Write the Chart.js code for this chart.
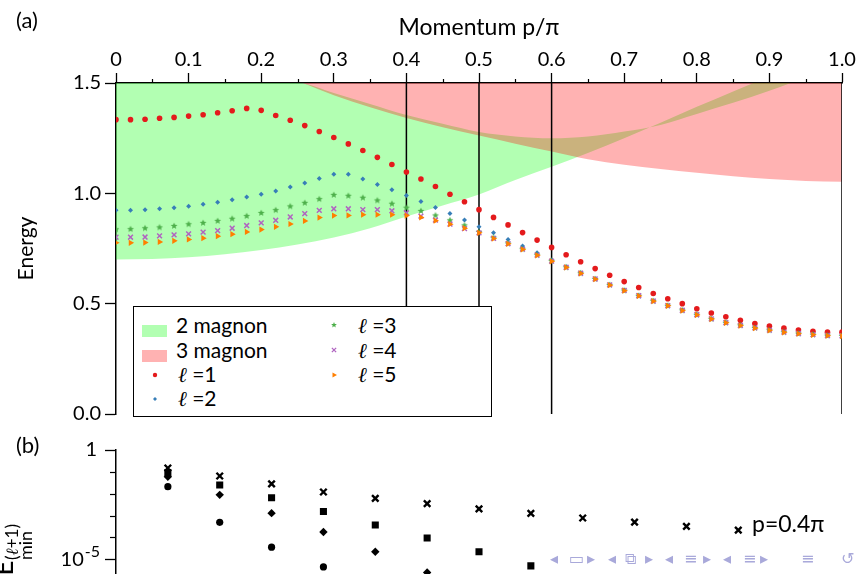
<!DOCTYPE html>
<html>
<head>
<meta charset="utf-8">
<script src="https://cdn.jsdelivr.net/npm/chart.js@4.4.0/dist/chart.umd.min.js"></script>
<style>
html, body { margin: 0; padding: 0; background: #fff; }
body { width: 861px; height: 574px; overflow: hidden; position: relative; font-family: Lato, "DejaVu Sans", sans-serif; color: #000; }
canvas { position: absolute; left: 0; }
#topChart { top: 0; }
#bottomChart { top: 430px; }
.lbl { position: absolute; white-space: nowrap; line-height: 1; }
#legend { position: absolute; left: 133px; top: 306px; width: 359px; height: 111px; background: #fff; border: 1px solid #000; box-sizing: border-box; }
#legend .txt { position: absolute; font-size: 21px; line-height: 1; white-space: nowrap; }
#legend .sw { position: absolute; width: 25px; height: 12px; }
#legend canvas { position: absolute; }
.ell { font-family: "DejaVu Serif", serif; font-style: italic; }
.rot { position: absolute; transform: rotate(-90deg); text-align: center; white-space: nowrap; }
.nav { position: absolute; color: #a9a9da; font-family: "DejaVu Sans", sans-serif; font-size: 16px; line-height: 1; }
</style>
</head>
<body>
<canvas id="topChart" width="861" height="430"></canvas>
<canvas id="bottomChart" width="861" height="270"></canvas>

<div class="lbl" style="left:16px; top:9px; font-size:22px;">(a)</div>
<div class="lbl" style="left:16px; top:434px; font-size:22px;">(b)</div>
<div class="lbl" style="left:752px; top:512px; font-size:23px;">p=0.4π</div>

<div class="rot" style="left:-14px; top:555px; width:34px; height:26px; font-size:26px; line-height:26px;">E</div>
<div class="rot" style="left:-8px; top:533px; width:40px; height:18px; font-size:17px; line-height:18px;">(<span class="ell">ℓ</span>+1)</div>
<div class="rot" style="left:8px; top:537px; width:34px; height:17px; font-size:18px; line-height:17px;">min</div>

<div id="legend">
  <div class="sw" style="left:8px; top:18px; background:rgba(0,255,0,0.3);"></div>
  <div class="txt" style="left:42px; top:7px;">2 magnon</div>
  <div class="sw" style="left:8px; top:43px; background:rgba(255,0,0,0.3);"></div>
  <div class="txt" style="left:42px; top:32px;">3 magnon</div>
  <canvas id="mk1" width="12" height="12" style="left:15px; top:62px;"></canvas>
  <div class="txt" style="left:44px; top:56px;"><span class="ell">ℓ</span> =1</div>
  <canvas id="mk2" width="12" height="12" style="left:15px; top:86px;"></canvas>
  <div class="txt" style="left:44px; top:80px;"><span class="ell">ℓ</span> =2</div>
  <canvas id="mk3" width="12" height="12" style="left:194px; top:12px;"></canvas>
  <div class="txt" style="left:224px; top:7px;"><span class="ell">ℓ</span> =3</div>
  <canvas id="mk4" width="12" height="12" style="left:194px; top:37px;"></canvas>
  <div class="txt" style="left:224px; top:32px;"><span class="ell">ℓ</span> =4</div>
  <canvas id="mk5" width="12" height="12" style="left:194px; top:62px;"></canvas>
  <div class="txt" style="left:224px; top:56px;"><span class="ell">ℓ</span> =5</div>
</div>

<div id="navbar"></div>

<script>
// ---- panel (a): excitation energies vs momentum ----
const momenta = [0, 0.02, 0.04, 0.06, 0.08, 0.10, 0.12, 0.14, 0.16, 0.18,
    0.20, 0.22, 0.24, 0.26, 0.28, 0.30, 0.32, 0.34, 0.36, 0.38,
    0.40, 0.42, 0.44, 0.46, 0.48, 0.50, 0.52, 0.54, 0.56, 0.58,
    0.60, 0.62, 0.64, 0.66, 0.68, 0.70, 0.72, 0.74, 0.76, 0.78,
    0.80, 0.82, 0.84, 0.86, 0.88, 0.90, 0.92, 0.94, 0.96, 0.98, 1.00];

const ell1 = [1.334, 1.334, 1.336, 1.340, 1.344, 1.350, 1.356, 1.365, 1.374, 1.385,
    1.376, 1.353, 1.331, 1.307, 1.280, 1.253, 1.224, 1.194, 1.163, 1.131,
    1.097, 1.065, 1.031, 0.996, 0.962, 0.926, 0.891, 0.857, 0.822, 0.788,
    0.755, 0.722, 0.690, 0.659, 0.629, 0.600, 0.573, 0.546, 0.522, 0.500,
    0.477, 0.458, 0.441, 0.425, 0.410, 0.398, 0.389, 0.381, 0.375, 0.371, 0.371];

const ell2 = [0.923, 0.923, 0.926, 0.930, 0.935, 0.942, 0.950, 0.960, 0.971, 0.983,
    0.996, 1.011, 1.029, 1.047, 1.067, 1.086, 1.086, 1.065, 1.040, 1.016,
    0.990, 0.963, 0.936, 0.909, 0.879, 0.849, 0.821, 0.791, 0.761, 0.731,
    0.698, 0.667, 0.640, 0.613, 0.586, 0.561, 0.537, 0.513, 0.492, 0.471,
    0.451, 0.432, 0.415, 0.403, 0.391, 0.381, 0.372, 0.366, 0.361, 0.357, 0.355];

const ell3 = [0.837, 0.838, 0.842, 0.846, 0.852, 0.860, 0.866, 0.875, 0.885, 0.897,
    0.911, 0.924, 0.941, 0.957, 0.974, 0.993, 0.989, 0.980, 0.968, 0.953,
    0.935, 0.920, 0.900, 0.878, 0.855, 0.825, 0.799, 0.773, 0.747, 0.720,
    0.694, 0.665, 0.638, 0.612, 0.585, 0.560, 0.536, 0.512, 0.491, 0.470,
    0.450, 0.431, 0.414, 0.402, 0.390, 0.380, 0.371, 0.365, 0.360, 0.356, 0.354];

const ell4 = [0.801, 0.801, 0.802, 0.807, 0.812, 0.816, 0.824, 0.831, 0.842, 0.854,
    0.866, 0.878, 0.893, 0.908, 0.923, 0.930, 0.930, 0.926, 0.926, 0.921,
    0.912, 0.897, 0.879, 0.861, 0.840, 0.821, 0.796, 0.772, 0.747, 0.720,
    0.693, 0.665, 0.638, 0.612, 0.585, 0.560, 0.536, 0.512, 0.491, 0.470,
    0.450, 0.431, 0.414, 0.402, 0.390, 0.380, 0.371, 0.365, 0.360, 0.356, 0.354];

const ell5 = [0.776, 0.776, 0.777, 0.780, 0.785, 0.791, 0.797, 0.806, 0.815, 0.825,
    0.836, 0.848, 0.861, 0.875, 0.890, 0.899, 0.900, 0.903, 0.903, 0.903,
    0.899, 0.891, 0.876, 0.860, 0.842, 0.821, 0.795, 0.771, 0.746, 0.719,
    0.692, 0.664, 0.637, 0.611, 0.584, 0.559, 0.535, 0.511, 0.490, 0.469,
    0.449, 0.430, 0.413, 0.401, 0.389, 0.379, 0.370, 0.364, 0.359, 0.355, 0.353];

// continuum edges
const twoMagnonMomenta = [0, 0.05, 0.10, 0.15, 0.20, 0.25, 0.30, 0.35, 0.40, 0.45,
    0.50, 0.55, 0.60, 0.65, 0.70, 0.75, 0.80, 0.85, 0.90, 0.95];
const twoMagnonLower = [0.700, 0.702, 0.710, 0.724, 0.743, 0.768, 0.800, 0.842, 0.895, 0.945,
    0.995, 1.060, 1.120, 1.183, 1.250, 1.320, 1.392, 1.462, 1.530, 1.600];
const twoMagnonUpper = [1.5, 1.5, 1.5, 1.5, 1.5, 1.5, 1.455, 1.405, 1.355, 1.315,
    1.278, 1.258, 1.250, 1.258, 1.280, 1.310, 1.360, 1.410, 1.465, 1.525];
const threeMagnonMomenta = [0.25, 0.30, 0.35, 0.40, 0.45, 0.50, 0.55, 0.60, 0.65, 0.70,
    0.75, 0.80, 0.85, 0.90, 0.95, 1.00];
const threeMagnonLower = [1.51, 1.445, 1.39, 1.341, 1.30, 1.262, 1.225, 1.19, 1.155, 1.13,
    1.11, 1.093, 1.077, 1.065, 1.056, 1.052];

const cutMomenta = [0.4, 0.5, 0.6, 1.0];
const momentumMinorTicks = [0.05, 0.15, 0.25, 0.35, 0.45, 0.55, 0.65, 0.75, 0.85, 0.95];

// ---- panel (b): log-scale gaps ----
const levelIndex = [1, 2, 3, 4, 5, 6, 7, 8, 9, 10, 11, 12];
const gapCross = [0.15, 0.0646, 0.0282, 0.0120, 0.00617, 0.00355, 0.00204, 0.00126, 0.000776, 0.000501, 0.000324, 0.000214];
const gapSquare = [0.094, 0.0251, 0.0066, 0.00155, 0.000372, 0.000095, 0.000022, 0.0000050];
const gapDiamond = [0.060, 0.0089, 0.00129, 0.000178, 0.000022, 0.0000025];
const gapCircle = [0.021, 0.00049, 0.000036, 0.0000045];
const logTicks = [1, 1e-1, 1e-2, 1e-3, 1e-4, 1e-5, 1e-6, 1e-7, 1e-8, 1e-9, 1e-10];
const logLabelExps = [0, -5, -10];

const FONT = "Lato, 'DejaVu Sans', sans-serif";
const RED = '#e41a1c', BLUE = '#377eb8', GREEN = '#4daf4a', PURPLE = '#b064c0', ORANGE = '#ff7f00';

Chart.defaults.font.family = FONT;
Chart.defaults.color = '#000';
Chart.defaults.animation = false;

// filled five point star for l=3
function starImage(color, r) {
    const c = document.createElement('canvas');
    const s = Math.ceil(r * 2) + 2;
    c.width = s; c.height = s;
    const g = c.getContext('2d');
    g.fillStyle = color;
    g.beginPath();
    for (let k = 0; k < 10; k++) {
        const rr = k % 2 ? r * 0.45 : r;
        const a = -Math.PI / 2 + k * Math.PI / 5;
        g.lineTo(s / 2 + rr * Math.cos(a), s / 2 + rr * Math.sin(a));
    }
    g.closePath();
    g.fill();
    return c;
}

// minor ticks drawn through the chart's scales
const minorTicks = {
    id: 'minorTicks',
    afterDraw(chart, args, opts) {
        const ctx = chart.ctx;
        ctx.save();
        ctx.strokeStyle = '#000';
        ctx.lineWidth = 1.2;
        (opts.x || []).forEach(v => {
            const s = chart.scales.x;
            const px = Math.round(s.getPixelForValue(v)) + 0.5;
            ctx.beginPath();
            ctx.moveTo(px, s.bottom);
            ctx.lineTo(px, s.bottom - opts.len);
            ctx.stroke();
        });
        (opts.y || []).forEach(v => {
            const s = chart.scales.y;
            const py = Math.round(s.getPixelForValue(v)) + 0.5;
            ctx.beginPath();
            ctx.moveTo(s.right, py);
            ctx.lineTo(s.right - opts.len, py);
            ctx.stroke();
        });
        ctx.restore();
    }
};

// "10" with a raised exponent, for the log axis
const powerLabels = {
    id: 'powerLabels',
    afterDraw(chart, args, opts) {
        const s = chart.scales.y;
        const ctx = chart.ctx;
        ctx.save();
        ctx.fillStyle = '#000';
        ctx.textBaseline = 'middle';
        (opts.exps || []).forEach(e => {
            if (e === 0) return;
            const py = s.getPixelForValue(Math.pow(10, e));
            const right = s.right - 16;
            ctx.font = '16px ' + FONT;
            const ew = ctx.measureText(String(e)).width;
            ctx.textAlign = 'left';
            ctx.fillText(String(e), right - ew, py - 7);
            ctx.font = '20px ' + FONT;
            ctx.textAlign = 'right';
            ctx.fillText('10', right - ew - 1, py);
        });
        ctx.restore();
    }
};

function xy(xs, ys) {
    return ys.map((y, i) => ({ x: xs[i], y: y }));
}

function scatterSet(label, vals, style, order) {
    return Object.assign({
        label: label,
        data: xy(momenta, vals),
        showLine: false,
        pointBorderWidth: 0,
        order: order
    }, style);
}

const starPoint = starImage(GREEN, 3.6);

const topDatasets = [
    {   // 0: upper edge of the 2 magnon band (fill target only)
        data: xy(twoMagnonMomenta, twoMagnonUpper),
        borderColor: 'rgba(0,0,0,0)', borderWidth: 0, pointRadius: 0,
        cubicInterpolationMode: 'monotone', fill: false, order: 30
    },
    {   // 1: 2 magnon continuum
        data: xy(twoMagnonMomenta, twoMagnonLower),
        borderColor: 'rgba(0,0,0,0)', borderWidth: 0, pointRadius: 0,
        cubicInterpolationMode: 'monotone',
        fill: 0, backgroundColor: 'rgba(0,255,0,0.3)', order: 29
    },
    {   // 2: 3 magnon continuum
        data: xy(threeMagnonMomenta, threeMagnonLower),
        borderColor: 'rgba(0,0,0,0)', borderWidth: 0, pointRadius: 0,
        cubicInterpolationMode: 'monotone',
        fill: 'end', backgroundColor: 'rgba(255,0,0,0.3)', order: 28
    }
];

cutMomenta.forEach(p => {
    topDatasets.push({
        data: [{ x: p, y: 0 }, { x: p, y: 1.5 }],
        borderColor: '#000', borderWidth: 1.5, pointRadius: 0, fill: false, order: 20
    });
});

topDatasets.push(
    scatterSet('ℓ=1', ell1, { pointStyle: 'circle', pointRadius: 2.8, pointBackgroundColor: RED }, 5),
    scatterSet('ℓ=2', ell2, { pointStyle: 'rectRot', pointRadius: 2.5, pointBackgroundColor: BLUE }, 4),
    scatterSet('ℓ=3', ell3, { pointStyle: starPoint, pointRadius: 4 }, 3),
    scatterSet('ℓ=4', ell4, { pointStyle: 'crossRot', pointRadius: 3.4, pointBorderWidth: 1.5, pointBorderColor: PURPLE }, 2),
    scatterSet('ℓ=5', ell5, { pointStyle: 'triangle', pointRotation: 90, pointRadius: 3.6, pointBackgroundColor: ORANGE }, 1)
);

new Chart(document.getElementById('topChart'), {
    type: 'line',
    data: { datasets: topDatasets },
    options: {
        responsive: false,
        devicePixelRatio: 1,
        layout: { padding: { left: 0, right: 19, top: 0, bottom: 13.3 } },
        plugins: {
            legend: { display: false },
            tooltip: { enabled: false },
            minorTicks: { x: momentumMinorTicks, len: 4 }
        },
        scales: {
            x: {
                type: 'linear', position: 'top', min: 0, max: 1,
                afterFit: s => { s.height = 83; },
                ticks: {
                    stepSize: 0.1, padding: 1, color: '#000', maxRotation: 0, autoSkip: false,
                    font: { family: FONT, size: 20 },
                    callback: v => (v === 0 ? '0' : v.toFixed(1))
                },
                grid: { drawOnChartArea: false, tickLength: 10, tickColor: '#000', tickWidth: 1.3 },
                border: { color: '#000', width: 1.5 },
                title: {
                    display: true, text: 'Momentum p/π', color: '#000',
                    font: { family: FONT, size: 23 }, padding: { top: 14, bottom: 0 }
                }
            },
            y: {
                type: 'linear', min: 0, max: 1.5,
                afterFit: s => { s.width = 116; },
                ticks: {
                    stepSize: 0.5, padding: 4, color: '#000',
                    font: { family: FONT, size: 20 },
                    callback: v => v.toFixed(1)
                },
                grid: { drawOnChartArea: false, tickLength: 11, tickColor: '#000', tickWidth: 1.3 },
                border: { color: '#000', width: 1.5 },
                title: {
                    display: true, text: 'Energy', color: '#000',
                    font: { family: FONT, size: 21 }, padding: { top: 14, bottom: 0 }
                }
            }
        }
    },
    plugins: [minorTicks]
});

// ---- bottom panel ----
function logSet(vals, style) {
    return Object.assign({
        data: xy(levelIndex, vals),
        showLine: false,
        pointBackgroundColor: '#000',
        pointBorderColor: '#000',
        pointBorderWidth: 0
    }, style);
}

function decade(v) {
    return Math.round(Math.log10(v));
}

new Chart(document.getElementById('bottomChart'), {
    type: 'line',
    data: {
        datasets: [
            logSet(gapCross, { pointStyle: 'crossRot', pointRadius: 4.6, pointBorderWidth: 2.4 }),
            logSet(gapSquare, { pointStyle: 'rect', pointRadius: 5 }),
            logSet(gapDiamond, { pointStyle: 'rectRot', pointRadius: 4.2 }),
            logSet(gapCircle, { pointStyle: 'circle', pointRadius: 3.6 })
        ]
    },
    options: {
        responsive: false,
        devicePixelRatio: 1,
        layout: { padding: { left: 0, right: 19, top: 18, bottom: 31.4 } },
        plugins: {
            legend: { display: false },
            tooltip: { enabled: false },
            minorTicks: { y: logTicks.filter(v => !logLabelExps.includes(decade(v))), len: 6 },
            powerLabels: { exps: logLabelExps }
        },
        scales: {
            x: { type: 'linear', min: 0, max: 14, display: false },
            y: {
                type: 'logarithmic', min: 1e-10, max: 1,
                afterFit: s => { s.width = 116; },
                afterBuildTicks: s => { s.ticks = logTicks.map(v => ({ value: v })); },
                ticks: {
                    padding: 8, color: '#000', autoSkip: false,
                    font: { family: FONT, size: 20 },
                    callback: v => (decade(v) === 0 ? '1' : '')
                },
                grid: {
                    drawOnChartArea: false, tickLength: 11, tickWidth: 1.3,
                    tickColor: c => (c.tick && logLabelExps.includes(decade(c.tick.value)) ? '#000' : 'rgba(0,0,0,0)')
                },
                border: { color: '#000', width: 1.5 }
            }
        }
    },
    plugins: [minorTicks, powerLabels]
});

// legend markers, drawn with the library's point renderer
const legendMarks = [
    ['mk1', { pointStyle: 'circle', radius: 2.2 }, RED],
    ['mk2', { pointStyle: 'rectRot', radius: 2 }, BLUE],
    ['mk3', { pointStyle: starImage(GREEN, 3), radius: 3 }, GREEN],
    ['mk4', { pointStyle: 'crossRot', radius: 3, borderWidth: 1.3 }, PURPLE],
    ['mk5', { pointStyle: 'triangle', radius: 3, rotation: 90 }, ORANGE]
];
legendMarks.forEach(([id, opt, color]) => {
    const c = document.getElementById(id);
    const g = c.getContext('2d');
    g.fillStyle = color;
    g.strokeStyle = color;
    g.lineWidth = opt.borderWidth || 1;
    Chart.helpers.drawPoint(g, Object.assign({ rotation: 0, borderWidth: 0 }, opt), c.width / 2, c.height / 2);
});

// beamer navigation symbols in the corner
const navIcons = [['◂', 557], ['▭', 576], ['▸', 594], ['◂', 615], ['⧉', 632], ['▸', 652],
    ['◂', 672], ['≡', 691], ['▸', 710], ['◂', 730], ['≡', 750], ['▸', 767], ['≡', 808], ['↺', 848]];
const navbar = document.getElementById('navbar');
navIcons.forEach(([ch, x]) => {
    const s = document.createElement('span');
    s.className = 'nav';
    s.textContent = ch;
    s.style.left = (x - 7) + 'px';
    s.style.top = '551px';
    navbar.appendChild(s);
});
</script>
</body>
</html>
